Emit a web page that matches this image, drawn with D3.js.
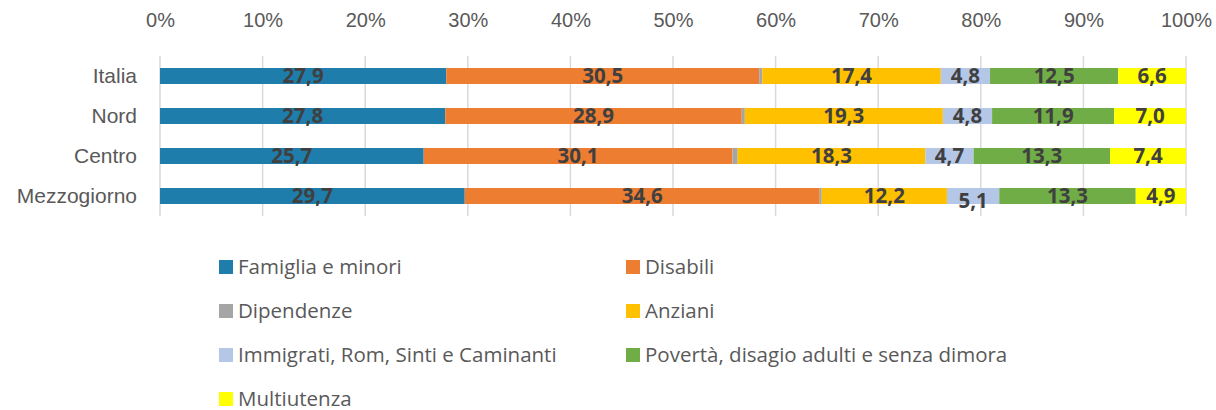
<!doctype html>
<html lang="it">
<head>
<meta charset="utf-8">
<title>Utenti per area di intervento</title>
<style>
  body { margin: 0; background: #fff; }
  svg { display: block; font-family: "Open Sans", "Noto Sans", sans-serif; }
  .tick text { fill: #595959; font-size: 20px; }
  .cat .tick text { font-size: 21px; }
  .grid line { stroke: #d9d9d9; stroke-width: 1.5; }
  .lbl { fill: #404040; font-size: 20.5px; font-weight: 700; }
  .leg text { fill: #595959; font-size: 20.5px; }
</style>
</head>
<body>
<svg id="chart" width="1216" height="410"></svg>
<script src="https://d3js.org/d3.v7.min.js"></script>
<script>
// aree territoriali
var regions = ["Italia", "Nord", "Centro", "Mezzogiorno"];

// nomi delle serie, nell'ordine di impilamento
var seriesNames = [
  "Famiglia e minori",
  "Disabili",
  "Dipendenze",
  "Anziani",
  "Immigrati, Rom, Sinti e Caminanti",
  "Povertà, disagio adulti e senza dimora",
  "Multiutenza"
];

// valori percentuali per serie (uno per area)
var famiglia    = [27.9, 27.8, 25.7, 29.7];
var disabili    = [30.5, 28.9, 30.1, 34.6];
var dipendenze  = [0.3, 0.3, 0.5, 0.2];
var anziani     = [17.4, 19.3, 18.3, 12.2];
var immigrati   = [4.8, 4.8, 4.7, 5.1];
var poverta     = [12.5, 11.9, 13.3, 13.3];
var multiutenza = [6.6, 7.0, 7.4, 4.9];

var tickValues = [0, 0.1, 0.2, 0.3, 0.4, 0.5, 0.6, 0.7, 0.8, 0.9, 1];

var colors = ["#1f7dab", "#ed7d31", "#a5a5a5", "#ffc000", "#b4c7e7", "#70ad47", "#ffff00"];

var seriesVals = [famiglia, disabili, dipendenze, anziani, immigrati, poverta, multiutenza];

// tabella per d3.stack
var rows = regions.map(function(r, i) {
  var o = { region: r };
  seriesNames.forEach(function(s, j) { o[s] = seriesVals[j][i]; });
  return o;
});

var stack = d3.stack().keys(seriesNames).offset(d3.stackOffsetExpand);
var layers = stack(rows);

var svg = d3.select("#chart");
var mLeft = 160, mRight = 1186, mTop = 56, mBottom = 216;

var x = d3.scaleLinear().domain([0, 1]).range([mLeft, mRight]);
var y = d3.scaleBand().domain(regions).range([mTop, mBottom]).paddingInner(0.6).paddingOuter(0.3);

// griglia verticale
svg.append("g").attr("class", "grid")
  .selectAll("line")
  .data(tickValues).enter()
  .append("line")
  .attr("x1", function(d) { return x(d); })
  .attr("x2", function(d) { return x(d); })
  .attr("y1", mTop)
  .attr("y2", mBottom);

// asse in alto
var xAxis = svg.append("g")
  .attr("transform", "translate(0,20)")
  .call(d3.axisTop(x).tickValues(tickValues).tickFormat(d3.format(".0%")).tickSize(0));
xAxis.select(".domain").remove();
xAxis.selectAll("text").attr("dy", "0.35em").attr("y", 0);

// asse delle categorie
var yAxis = svg.append("g")
  .attr("class", "cat")
  .attr("transform", "translate(" + (mLeft - 23) + ",0)")
  .call(d3.axisLeft(y).tickSize(0));
yAxis.select(".domain").remove();
yAxis.selectAll("text").attr("x", 0).attr("dy", "0.35em");

// barre
var layer = svg.append("g").selectAll("g")
  .data(layers).enter()
  .append("g")
  .attr("fill", function(d, i) { return colors[i]; });

layer.selectAll("rect")
  .data(function(d) { return d; }).enter()
  .append("rect")
  .attr("x", function(d) { return x(d[0]); })
  .attr("y", function(d) { return y(d.data.region); })
  .attr("width", function(d) { return x(d[1]) - x(d[0]); })
  .attr("height", y.bandwidth());

// etichette dati (tranne Dipendenze, troppo piccole)
var fmt = function(v) { return d3.format(".1f")(v).replace(".", ","); };
layers.forEach(function(l, i) {
  if (l.key === "Dipendenze") return;
  svg.append("g").selectAll("text")
    .data(l).enter()
    .append("text")
    .attr("class", "lbl")
    .attr("text-anchor", "middle")
    .attr("x", function(d) { return (x(d[0]) + x(d[1])) / 2; })
    .attr("y", function(d) {
      var dy = (l.key === "Immigrati, Rom, Sinti e Caminanti" && d.data.region === "Mezzogiorno") ? 5 : 0;
      return y(d.data.region) + y.bandwidth() / 2 + dy;
    })
    .attr("dy", "0.36em")
    .text(function(d) { return fmt(d.data[l.key]); });
});

// legenda su due colonne
var leg = svg.append("g").attr("class", "leg")
  .selectAll("g")
  .data(seriesNames).enter()
  .append("g")
  .attr("transform", function(d, i) {
    return "translate(" + (i % 2 === 0 ? 219 : 626) + "," + (267 + Math.floor(i / 2) * 44) + ")";
  });
leg.append("rect")
  .attr("x", 0).attr("y", -7)
  .attr("width", 14).attr("height", 14)
  .attr("fill", function(d, i) { return colors[i]; });
leg.append("text")
  .attr("x", 19).attr("dy", "0.35em")
  .text(function(d) { return d; });
</script>
</body>
</html>
